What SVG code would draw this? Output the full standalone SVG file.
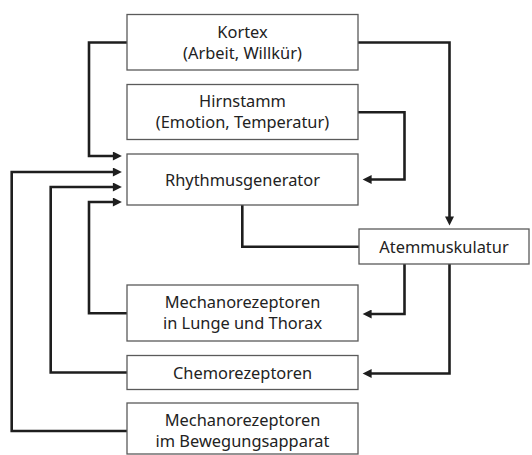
<svg xmlns="http://www.w3.org/2000/svg" width="532" height="455" viewBox="0 0 532 455">
<style>
.box{fill:#fff;stroke:#5a5a5a;stroke-width:1.3}
.t{font-family:"Noto Sans","Open Sans","DejaVu Sans",sans-serif;font-size:16.4px;fill:#222;text-anchor:middle}
.c{fill:none;stroke:#1e1e1e;stroke-width:2.6;stroke-linejoin:miter}
.a{marker-end:url(#ah)}
</style>
<defs>
<marker id="ah" viewBox="0 0 10 10" refX="4" refY="5" markerWidth="10" markerHeight="9" markerUnits="userSpaceOnUse" orient="auto">
<path d="M0,0 L10,5 L0,10 z" fill="#1e1e1e"/>
</marker>
</defs>
<rect width="532" height="455" fill="#fff"/>
<g id="connectors">
<path class="c a" d="M127,42.5 H89 V156 H116.5"/>
<path class="c a" d="M358,42.5 H449.5 V220"/>
<path class="c a" d="M358,112.3 H404.5 V179.5 H368"/>
<path class="c a" d="M127,431 H11.7 V172 H116.5"/>
<path class="c a" d="M127,372.5 H50.7 V187 H116.5"/>
<path class="c a" d="M127,313.3 H89 V202 H116.5"/>
<path class="c" d="M242.3,205 V246.7 H359"/>
<path class="c a" d="M404.5,264 V314 H368"/>
<path class="c a" d="M449.5,264 V373.5 H368"/>
</g>
<g id="kortex">
<rect class="box" x="127" y="14.5" width="231" height="55.5"/>
<text class="t" x="242.5" y="37.5">Kortex</text>
<text class="t" x="242.5" y="58.5">(Arbeit, Willkür)</text>
</g>
<g id="hirnstamm">
<rect class="box" x="127" y="84.5" width="231" height="55"/>
<text class="t" x="242.5" y="107">Hirnstamm</text>
<text class="t" x="242.5" y="128">(Emotion, Temperatur)</text>
</g>
<g id="rhythmusgenerator">
<rect class="box" x="127" y="154" width="231" height="51"/>
<text class="t" x="242.5" y="186">Rhythmusgenerator</text>
</g>
<g id="atemmuskulatur">
<rect class="box" x="359" y="229" width="170" height="35"/>
<text class="t" x="444" y="252.5">Atemmuskulatur</text>
</g>
<g id="mechano-lunge">
<rect class="box" x="127" y="285" width="231" height="56"/>
<text class="t" x="242.5" y="308.3">Mechanorezeptoren</text>
<text class="t" x="242.5" y="329.3">in Lunge und Thorax</text>
</g>
<g id="chemorezeptoren">
<rect class="box" x="127" y="355.5" width="231" height="34"/>
<text class="t" x="242.5" y="379">Chemorezeptoren</text>
</g>
<g id="mechano-bewegung">
<rect class="box" x="127" y="403" width="231" height="51"/>
<text class="t" x="242.5" y="425.7">Mechanorezeptoren</text>
<text class="t" x="242.5" y="446.7">im Bewegungsapparat</text>
</g>
</svg>
